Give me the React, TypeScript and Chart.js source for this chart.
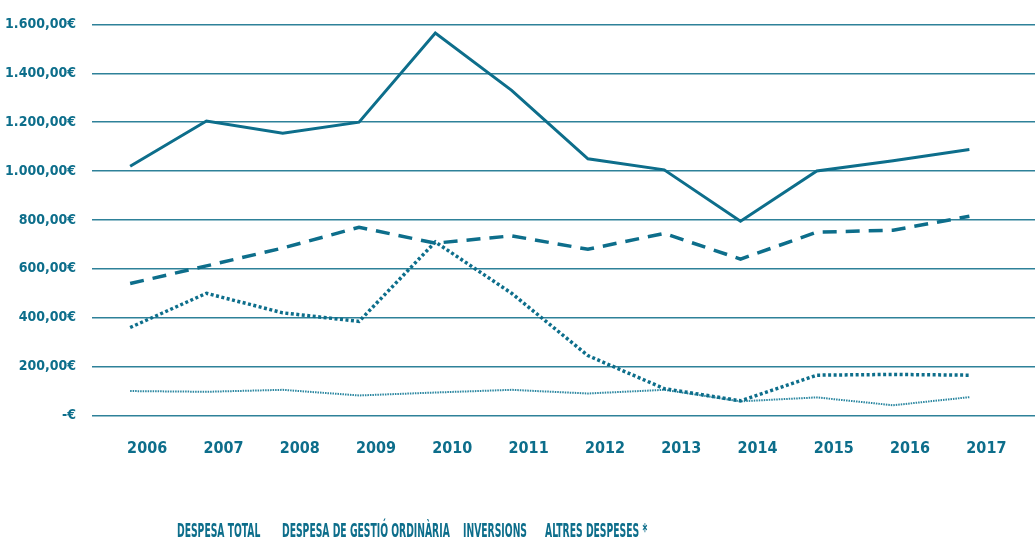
import React, { useEffect, useRef } from 'react';
import { Chart, registerables } from 'chart.js';

Chart.register(...registerables);

const years = ['2006', '2007', '2008', '2009', '2010', '2011', '2012', '2013', '2014', '2015', '2016', '2017'];
const despesaTotal = [1020, 1205, 1155, 1200, 1565, 1330, 1050, 1005, 795, 1000, 1042, 1088];
const despesaGestio = [540, 612, 685, 770, 705, 735, 680, 745, 640, 750, 758, 815];
const inversions = [360, 500, 420, 385, 710, 500, 245, 110, 60, 165, 168, 165];
const altresDespeses = [100, 97, 105, 82, 94, 105, 90, 105, 58, 74, 42, 75];
const seriesLabels = ['DESPESA TOTAL', 'DESPESA DE GESTIÓ ORDINÀRIA', 'INVERSIONS', 'ALTRES DESPESES *'];
const yTicks = [0, 200, 400, 600, 800, 1000, 1200, 1400, 1600];

const FONT = "'DejaVu Sans Condensed', 'Liberation Sans Narrow', 'Roboto', sans-serif";
const TEAL = '#0d6e8b';
const GRID = '#2e8199';

function fmtEuro(v: number): string {
  if (v === 0) return '-€';
  const th = Math.floor(v / 1000);
  const r = v % 1000;
  return th > 0 ? `${th}.${String(r).padStart(3, '0')},00€` : `${r},00€`;
}

const toPts = (arr: number[]) => arr.map((y, i) => ({ x: i, y }));

export default function App() {
  const ref = useRef<HTMLCanvasElement | null>(null);
  useEffect(() => {
    if (!ref.current) return;
    const chart = new Chart(ref.current, {
      type: 'line',
      data: {
        datasets: [
          { label: seriesLabels[0], data: toPts(despesaTotal), borderColor: TEAL, borderWidth: 3, pointRadius: 0, tension: 0 },
          { label: seriesLabels[1], data: toPts(despesaGestio), borderColor: TEAL, borderWidth: 3.5, borderDash: [14, 9], pointRadius: 0, tension: 0 },
          { label: seriesLabels[2], data: toPts(inversions), borderColor: TEAL, borderWidth: 3.5, borderDash: [3, 2.5], pointRadius: 0, tension: 0 },
          { label: seriesLabels[3], data: toPts(altresDespeses), borderColor: '#2a86a0', borderWidth: 2, borderDash: [1.5, 1], pointRadius: 0, tension: 0 },
        ],
      },
      options: {
        animation: false,
        responsive: true,
        maintainAspectRatio: false,
        layout: { padding: { top: 19, right: 0, left: 0, bottom: 0 } },
        plugins: { legend: { display: false }, tooltip: { enabled: false } },
        scales: {
          x: {
            type: 'linear',
            min: -0.5,
            max: 11.86,
            afterBuildTicks: (s: any) => { s.ticks = years.map((_, i) => ({ value: i })); },
            afterFit: (s: any) => { s.height = 549 - 415.5; },
            grid: { display: false, drawTicks: false },
            border: { display: false },
            ticks: {
              autoSkip: false,
              maxRotation: 0,
              labelOffset: 17,
              padding: 24,
              color: TEAL,
              font: { family: FONT, size: 16, weight: 'bold' },
              callback: (v: any) => years[v as number],
            },
          },
          y: {
            min: 0,
            max: 1600,
            afterBuildTicks: (s: any) => { s.ticks = yTicks.map((v) => ({ value: v })); },
            afterFit: (s: any) => { s.width = 92; },
            grid: { color: GRID, lineWidth: 1.5, drawTicks: false },
            border: { display: false },
            ticks: {
              padding: 16,
              color: TEAL,
              font: { family: FONT, size: 14, weight: 'bold' },
              callback: (v: any) => fmtEuro(v as number),
            },
          },
        },
      },
    } as any);
    return () => chart.destroy();
  }, []);

  const legendLeft = [177, 282, 463, 545];
  return (
    <div style={{ position: 'fixed', left: 0, top: 0, width: 1035, height: 549, background: '#fff' }}>
      <canvas ref={ref} />
      {seriesLabels.map((t, i) => (
        <span
          key={t}
          style={{
            position: 'absolute',
            left: legendLeft[i],
            top: 521,
            fontFamily: FONT,
            fontWeight: 'bold',
            fontSize: 19,
            lineHeight: '19px',
            color: TEAL,
            whiteSpace: 'nowrap',
            transform: 'scaleX(0.54)',
            transformOrigin: 'left top',
          }}
        >
          {t}
        </span>
      ))}
    </div>
  );
}
